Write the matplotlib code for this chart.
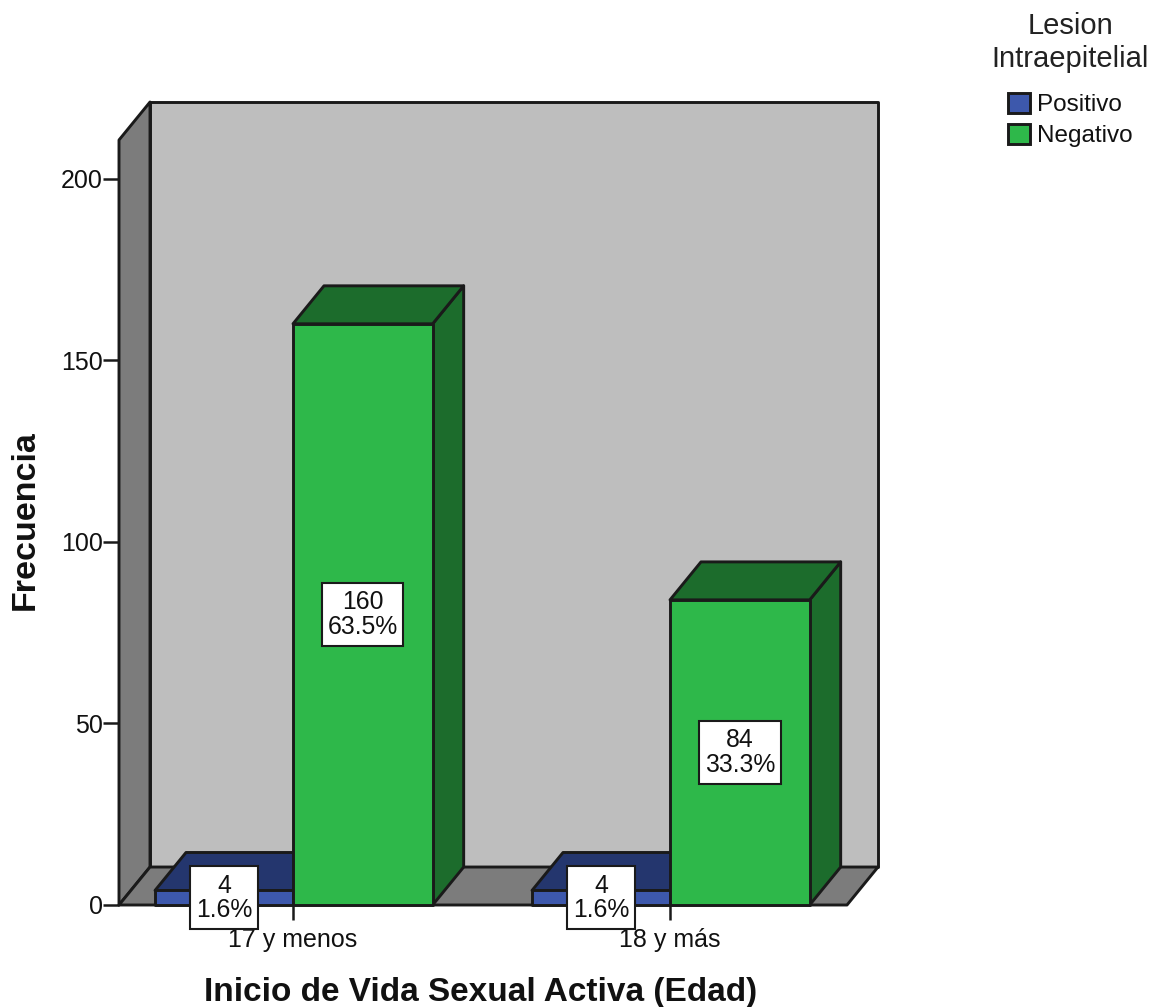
import matplotlib.pyplot as plt
from matplotlib.patches import Polygon, Patch
from matplotlib.path import Path

plt.rcParams["font.family"] = ["Liberation Sans", "DejaVu Sans"]

categories = ["17 y menos", "18 y más"]
series_names = ["Positivo", "Negativo"]
positivo = [4, 4]
negativo = [160, 84]
positivo_pct = ["1.6%", "1.6%"]
negativo_pct = ["63.5%", "33.3%"]
yticks = [0, 50, 100, 150, 200]

BLUE, BLUE_TOP = "#3D58AC", "#24366E"
GREEN, GREEN_DARK = "#2EB84A", "#1C6C2C"
WALL, SIDE = "#BEBEBE", "#7C7C7C"
EDGE = "#1A1A1A"
LW = 2.1

W, H = 1156, 1007
fig = plt.figure(figsize=(W / 100, H / 100), dpi=100)
# plot box in pixels: left 119, right 847, floor 905, top 140
ax = fig.add_axes([119 / W, 1 - 905 / H, 728 / W, 765 / H])
xmin, xmax = -0.4615, 1.4695
ymin, ymax = 0, 210.6
ax.set_xlim(xmin, xmax)
ax.set_ylim(ymin, ymax)
ax.patch.set_visible(False)
for s in ax.spines.values():
    s.set_visible(False)

# oblique depth of the 3d effect, data units
dx = 31 / 377
dy = 38 / 3.635
blue_w = 0.366
green_w = 0.3705


def poly(points, color, z):
    ax.add_patch(Polygon(points, closed=True, facecolor=color, edgecolor=EDGE,
                         linewidth=LW, joinstyle="round", clip_on=False, zorder=z))


def box3d(x0, x1, v, front, dark, z):
    poly([(x1, 0), (x1 + dx, dy), (x1 + dx, v + dy), (x1, v)], dark, z)
    poly([(x0, v), (x1, v), (x1 + dx, v + dy), (x0 + dx, v + dy)], dark, z)
    poly([(x0, 0), (x1, 0), (x1, v), (x0, v)], front, z + 0.1)


def label_frame(x0, y0, w, h, mutation_size):
    # wider vertical than horizontal padding, pixels
    padx, pady = 5.5, 7.5
    x0, y0, x1, y1 = x0 - padx, y0 - pady, x0 + w + padx, y0 + h + pady
    return Path([(x0, y0), (x1, y0), (x1, y1), (x0, y1), (x0, y0)], closed=True)


# back wall, side wall and floor
poly([(xmin + dx, dy), (xmax + dx, dy), (xmax + dx, ymax + dy), (xmin + dx, ymax + dy)], WALL, 1)
poly([(xmin, 0), (xmin + dx, dy), (xmin + dx, ymax + dy), (xmin, ymax)], SIDE, 1.1)
poly([(xmin, 0), (xmax, 0), (xmax + dx, dy), (xmin + dx, dy)], SIDE, 1.1)

for i in range(len(categories)):
    box3d(i - blue_w, i, positivo[i], BLUE, BLUE_TOP, 2)
    box3d(i, i + green_w, negativo[i], GREEN, GREEN_DARK, 2.5)

label_box = dict(boxstyle=label_frame, facecolor="white", edgecolor=EDGE, linewidth=1.5)
for i in range(len(categories)):
    ax.text(i - blue_w / 2, positivo[i] / 2, f"{positivo[i]}\n{positivo_pct[i]}", fontsize=17.8,
            ha="center", va="center", linespacing=1.02, color="#111111", bbox=label_box, zorder=6)
    ax.text(i + green_w / 2, negativo[i] / 2, f"{negativo[i]}\n{negativo_pct[i]}", fontsize=17.8,
            ha="center", va="center", linespacing=1.02, color="#111111", bbox=label_box, zorder=6)

ax.set_axisbelow(True)
ax.set_yticks(yticks)
ax.set_xticks(range(len(categories)))
ax.set_xticklabels(categories)
ax.tick_params(axis="y", length=11.5, width=1.8, pad=0, labelsize=18, color=EDGE, labelcolor="#111111")
ax.tick_params(axis="x", length=11, width=1.8, pad=5.5, labelsize=18, color=EDGE, labelcolor="#111111")

ax.set_xlabel("Inicio de Vida Sexual Activa (Edad)", fontsize=24, fontweight="bold", color="#111111")
ax.xaxis.set_label_coords(0.4966, -0.094)
ax.set_ylabel("Frecuencia", fontsize=24.5, fontweight="bold", color="#111111")
ax.yaxis.set_label_coords(-0.108, 0.503)

fig.text(1070 / W, 1 - 12 / H, "Lesion\nIntraepitelial", fontsize=21, ha="center", va="top",
         multialignment="center", linespacing=1.22, color="#222222")

handles = [Patch(facecolor=BLUE, edgecolor=EDGE, linewidth=LW, label=series_names[0]),
           Patch(facecolor=GREEN, edgecolor=EDGE, linewidth=LW, label=series_names[1])]
leg = fig.legend(handles=handles, loc="upper center", bbox_to_anchor=(1070 / W, 1 - 93 / H),
                 frameon=False, fontsize=17.5, handlelength=0.9, handleheight=0.9,
                 handletextpad=0.28, labelspacing=0.3, borderpad=0, borderaxespad=0)
for t in leg.get_texts():
    t.set_color("#111111")

fig.savefig("out.png", dpi=100)
